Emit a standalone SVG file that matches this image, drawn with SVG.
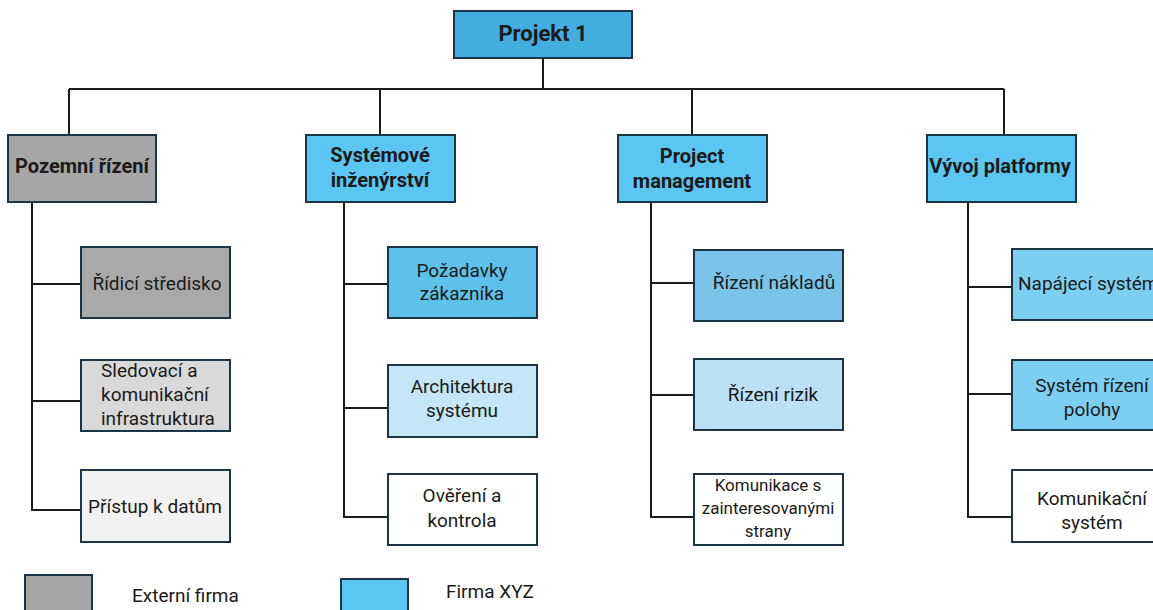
<svg xmlns="http://www.w3.org/2000/svg" width="1153" height="610" viewBox="0 0 1153 610">
  <style>
    .box { stroke: #1d3444; stroke-width: 2; }
    .wire { fill: none; stroke: #1a1a1a; stroke-width: 2; }
    text { font-family: Roboto, "Liberation Sans", sans-serif; fill: #1a1a1a; font-size: 19px; }
    .b { font-weight: bold; font-size: 20px; }
    .root { font-size: 22px; }
    .c { text-anchor: middle; }
    .sm { font-size: 17px; }
  </style>
  <rect width="1153" height="610" fill="#ffffff"/>

  <!-- tree connectors -->
  <g id="connectors">
    <path class="wire" d="M543 58 V89 M69 89 H1004 M69 89 V135 M380 89 V135 M692 89 V135 M1004 89 V135"/>
    <path class="wire" d="M32 202 V510 H81 M32 284 H81 M32 401 H81"/>
    <path class="wire" d="M344 202 V517 H388 M344 284 H388 M344 408 H388"/>
    <path class="wire" d="M651 202 V517 H694 M651 283 H694 M651 395 H694"/>
    <path class="wire" d="M968 202 V517 H1012 M968 287 H1012 M968 394 H1012"/>
  </g>

  <!-- root -->
  <g id="projekt1">
    <rect class="box" x="454" y="11" width="178" height="47" fill="#42AEE0"/>
    <text class="b c root" x="543" y="41">Projekt 1</text>
  </g>

  <!-- level 1 -->
  <g id="pozemni-rizeni">
    <rect class="box" x="8" y="135" width="148" height="67" fill="#A6A6A6"/>
    <text class="b c" x="82" y="173">Pozemní řízení</text>
  </g>
  <g id="systemove-inzenyrstvi">
    <rect class="box" x="306" y="135" width="149" height="67" fill="#5CC6F2"/>
    <text class="b c" x="380" y="162">Systémové</text>
    <text class="b c" x="380" y="187">inženýrství</text>
  </g>
  <g id="project-management">
    <rect class="box" x="618" y="135" width="149" height="67" fill="#5CC6F2"/>
    <text class="b c" x="692" y="163">Project</text>
    <text class="b c" x="692" y="188">management</text>
  </g>
  <g id="vyvoj-platformy">
    <rect class="box" x="927" y="135" width="149" height="67" fill="#5CC6F2"/>
    <text class="b c" x="1000" y="173">Vývoj platformy</text>
  </g>

  <!-- column 1 -->
  <g id="ridici-stredisko">
    <rect class="box" x="81" y="247" width="149" height="71" fill="#A9A9A9"/>
    <text class="c" x="157" y="290">Řídicí středisko</text>
  </g>
  <g id="sledovaci-infrastruktura">
    <rect class="box" x="81" y="360" width="149" height="71" fill="#D9D9D9"/>
    <text x="101" y="377">Sledovací a</text>
    <text x="101" y="401">komunikační</text>
    <text x="101" y="425">infrastruktura</text>
  </g>
  <g id="pristup-k-datum">
    <rect class="box" x="81" y="470" width="149" height="72" fill="#F2F2F2"/>
    <text class="c" x="155" y="513">Přístup k datům</text>
  </g>

  <!-- column 2 -->
  <g id="pozadavky-zakaznika">
    <rect class="box" x="388" y="247" width="149" height="71" fill="#5EC1EA"/>
    <text class="c" x="462" y="277">Požadavky</text>
    <text class="c" x="462" y="300">zákazníka</text>
  </g>
  <g id="architektura-systemu">
    <rect class="box" x="388" y="365" width="149" height="72" fill="#C4E7F8"/>
    <text class="c" x="462" y="393">Architektura</text>
    <text class="c" x="462" y="417">systému</text>
  </g>
  <g id="overeni-a-kontrola">
    <rect class="box" x="388" y="474" width="149" height="71" fill="#FFFFFF"/>
    <text class="c" x="462" y="502">Ověření a</text>
    <text class="c" x="462" y="527">kontrola</text>
  </g>

  <!-- column 3 -->
  <g id="rizeni-nakladu">
    <rect class="box" x="694" y="250" width="149" height="71" fill="#79C4E8"/>
    <text class="c" x="774" y="289">Řízení nákladů</text>
  </g>
  <g id="rizeni-rizik">
    <rect class="box" x="694" y="359" width="149" height="71" fill="#BBE1F4"/>
    <text class="c" x="773" y="401">Řízení rizik</text>
  </g>
  <g id="komunikace-se-stranami">
    <rect class="box" x="694" y="474" width="149" height="71" fill="#FFFFFF"/>
    <text class="c sm" x="768" y="491">Komunikace s</text>
    <text class="c sm" x="768" y="514">zainteresovanými</text>
    <text class="c sm" x="768" y="537">strany</text>
  </g>

  <!-- column 4 -->
  <g id="napajeci-system">
    <rect class="box" x="1012" y="249" width="150" height="71" fill="#7DCFF2"/>
    <text x="1018" y="290">Napájecí systém</text>
  </g>
  <g id="system-rizeni-polohy">
    <rect class="box" x="1012" y="360" width="150" height="70" fill="#7DCFF2"/>
    <text class="c" x="1092" y="392">Systém řízení</text>
    <text class="c" x="1092" y="416">polohy</text>
  </g>
  <g id="komunikacni-system">
    <rect class="box" x="1012" y="470" width="150" height="72" fill="#FFFFFF"/>
    <text class="c" x="1092" y="505">Komunikační</text>
    <text class="c" x="1092" y="529">systém</text>
  </g>

  <!-- legend -->
  <g id="legend">
    <rect class="box" x="25" y="575" width="67" height="40" fill="#A6A6A6"/>
    <text x="132" y="602">Externí firma</text>
    <rect class="box" x="341" y="579" width="67" height="40" fill="#5CC6F2"/>
    <text x="446" y="598">Firma XYZ</text>
  </g>
</svg>
